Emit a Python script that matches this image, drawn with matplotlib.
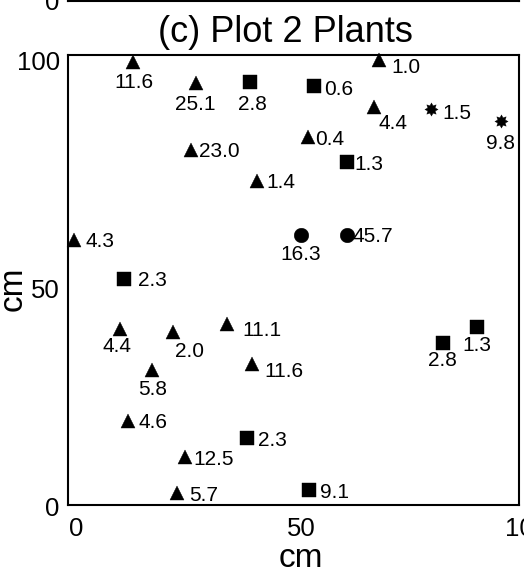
import matplotlib
matplotlib.use("Agg")
import matplotlib.pyplot as plt
from matplotlib.path import Path
from matplotlib.transforms import ScaledTranslation

plt.rcParams['font.family'] = ['Liberation Sans', 'DejaVu Sans']

# --- plant positions (cm) and sizes, grouped by symbol ---
tri_x = [14.4, 28.4, 69.0, 67.9, 27.3, 53.2, 42.0, 1.3, 11.6, 23.2, 35.3, 40.9, 18.7, 13.4, 25.9, 24.2]
tri_y = [98.4, 93.7, 98.8, 88.4, 78.8, 81.7, 72.1, 58.9, 39.1, 38.4, 40.2, 31.4, 29.9, 18.7, 10.6, 2.6]
tri_val = [11.6, 25.1, 1.0, 4.4, 23.0, 0.4, 1.4, 4.3, 4.4, 2.0, 11.1, 11.6, 5.8, 4.6, 12.5, 5.7]

sq_x = [40.3, 54.6, 61.9, 12.5, 39.7, 53.5, 83.1, 90.7]
sq_y = [93.9, 93.2, 76.2, 50.3, 15.0, 3.3, 36.0, 39.6]
sq_val = [2.8, 0.6, 1.3, 2.3, 2.3, 9.1, 2.8, 1.3]

circ_x = [51.6, 61.8]
circ_y = [60.0, 60.1]
circ_val = [16.3, 45.7]

star_x = [80.4, 96.1]
star_y = [88.0, 85.3]
star_val = [1.5, 9.8]

x_ticks = [0, 50, 100]
y_ticks = [0, 50, 100]

# --- label placement: (alignment, dx, dy) in pixels, dy measured downward ---
tri_lab = [('c', 1, 18.7), ('c', -1, 19), ('l', 12, 5), ('c', 19, 14), ('l', 8, -1),
           ('l', 7, 0.6), ('l', 8.8, 0), ('l', 11.7, 0), ('c', -3.6, 15.5), ('c', 17, 17),
           ('l', 14.7, 4), ('l', 12.4, 6), ('c', 0, 16.6), ('l', 10, 0), ('l', 8.3, 0),
           ('l', 12.4, 0)]
sq_lab = [('c', 3, 20), ('l', 9.7, 1.6), ('l', 7.4, 0.6), ('l', 13.7, 0), ('l', 11.3, 1),
          ('l', 10.7, 0), ('c', -0.5, 16), ('c', 0, 17)]
circ_lab = [('c', 0, 18), ('l', 5.7, 0)]
star_lab = [('l', 11.8, 2.5), ('c', -1, 20.5)]

W, H = 524, 571
fig = plt.figure(figsize=(W / 100, H / 100), dpi=100)

# bottom edge of the panel above
ax0 = fig.add_axes([68 / W, 570 / H, 451 / W, 0.3])
ax0.set_xlim(0, 100)
ax0.set_ylim(0, 100)
ax0.set_xticks([])
ax0.set_yticks([0])
ax0.tick_params(axis='y', length=0, labelsize=18.5, pad=6)
for s in ax0.spines.values():
    s.set_linewidth(1.5)

ax = fig.add_axes([68 / W, 66 / H, 451 / W, 450 / H])
ax.set_xlim(0, 100)
ax.set_ylim(0, 100)
for s in ax.spines.values():
    s.set_linewidth(1.5)

star_path = Path.unit_regular_star(8, 0.6)

LAB_FS = 15
CAP = 0.716 * LAB_FS * 100 / 72


def draw(xs, ys, vals, labs, marker, ms):
    ax.plot(xs, ys, linestyle='none', marker=marker, ms=ms, color='black',
            mec='black', mew=0.3, clip_on=False)
    for x, y, v, (al, dx, dy) in zip(xs, ys, vals, labs):
        ax.annotate(f"{v:.1f}", (x, y), xytext=(dx, -(dy + CAP / 2)),
                    textcoords='offset pixels', ha='left' if al == 'l' else 'center',
                    va='baseline', fontsize=LAB_FS, annotation_clip=False)


draw(tri_x, tri_y, tri_val, tri_lab, '^', 10)
draw(sq_x, sq_y, sq_val, sq_lab, 's', 10)
draw(circ_x, circ_y, circ_val, circ_lab, 'o', 10.5)
draw(star_x, star_y, star_val, star_lab, star_path, 9.5)

ax.set_xticks(x_ticks)
ax.set_yticks(y_ticks)
ax.set_xticklabels([str(t) for t in x_ticks])
ax.set_yticklabels([str(t) for t in y_ticks])
ax.tick_params(length=0, labelsize=18.5)
ax.tick_params(axis='x', pad=9)
ax.tick_params(axis='y', pad=6)

shift_x = ScaledTranslation(8 / 100, 0, fig.dpi_scale_trans)
for lab in ax.get_xticklabels():
    lab.set_transform(lab.get_transform() + shift_x)
for lab, d in zip(ax.get_yticklabels(), [1, 8.5, 5]):
    lab.set_transform(lab.get_transform() + ScaledTranslation(0, -d / 100, fig.dpi_scale_trans))

fig.text(285 / W, (H - 33) / H, "(c) Plot 2 Plants", ha='center', va='center', fontsize=26)
fig.text(301 / W, (H - 566.7) / H, "cm", ha='center', va='baseline', fontsize=24)
fig.text(21.7 / W, (H - 289) / H, "cm", ha='center', va='baseline', fontsize=24,
         rotation=90, rotation_mode='anchor')

fig.savefig("out.png", dpi=100)
